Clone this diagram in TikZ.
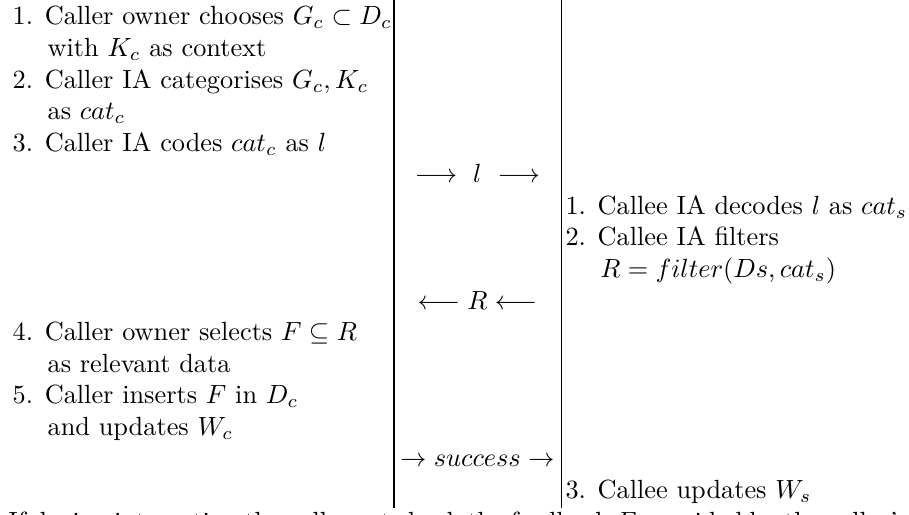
\documentclass[tikz,border=0pt]{standalone}
\usepackage{tikz}
\tikzstyle{stepline}=[anchor=base west, inner sep=0pt, align=left]
\tikzstyle{msg}=[anchor=base, inner sep=0pt]
\newcommand{\ind}{\hspace*{13.3pt}}

\begin{document}
\begin{tikzpicture}
        [x=1pt,y=1pt]
            \useasboundingbox (0,0) rectangle (345.6,-195.8);
            \clip (0,0) rectangle (345.6,-195.8);
            % the two separators
            \coordinate (lt) at (149.8,0); \coordinate (lb) at (149.8,-193);
            \coordinate (rt) at (213.3,0); \coordinate (rb) at (213.3,-193);
            \draw (lt) -- (lb);
            \draw (rt) -- (rb);
            % caller side (base = baseline of the last line)
            \node [stepline] (caller1) at (4.6,-21.5) {1. Caller owner chooses $G_c \subset D_c$\\ \ind with $K_c$ as context};
            \node [stepline] (caller2) at (4.6,-45.5) {2. Caller IA categorises $G_c, K_c$\\ \ind as $cat_c$};
            \node [stepline] (caller3) at (4.6,-57.5) {3. Caller IA codes $cat_c$ as $l$};
            \node [stepline] (caller4) at (4.6,-141.5) {4. Caller owner selects $F \subseteq R$\\ \ind as relevant data};
            \node [stepline] (caller5) at (4.6,-165.5) {5. Caller inserts $F$ in $D_c$\\ \ind and updates $W_c$};
            % messages
            \node [msg] (msgl) at (181.5,-69.5) {$\longrightarrow\ l\ \longrightarrow$};
            \node [msg] (msgr) at (181.5,-117.5) {$\longleftarrow R \longleftarrow$};
            \node [msg] (msgs) at (181.5,-177.5) {$\rightarrow success \rightarrow$};
            % callee side
            \node [stepline] (callee1) at (214.8,-81.5) {1. Callee IA decodes $l$ as $cat_s$};
            \node [stepline] (callee2) at (214.8,-105.5) {2. Callee IA filters\\ \ind $R = filter(Ds, cat_s)$};
            \node [stepline] (callee3) at (214.8,-189.5) {3. Callee updates $W_s$};
            % text below, cut by the frame
            \node [anchor=north west, inner sep=0pt, text width=342pt, align=justify] (after) at (3,-194.6)
                {If during interaction the caller gets back the feedback $F$ provided by the callee's IA, both owners update their weights.};
        \end{tikzpicture}
\end{document}
